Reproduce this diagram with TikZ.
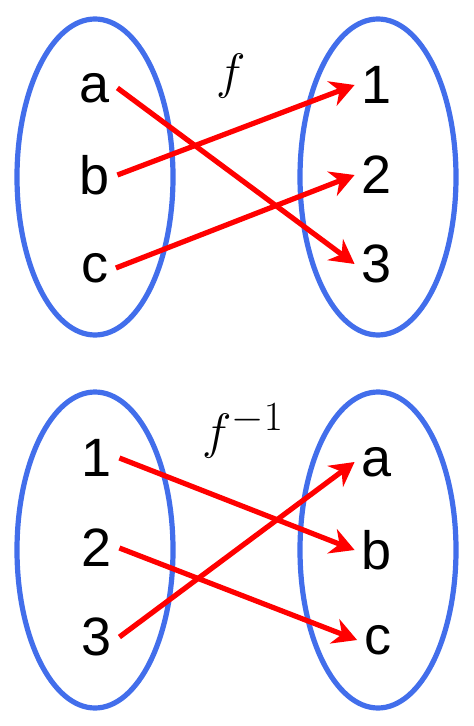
\documentclass[tikz,border=0pt]{standalone}
\usepackage[no-math]{fontspec}
\setmainfont{Liberation Sans}
\usepackage{amsmath}
\usetikzlibrary{arrows.meta,positioning,shapes.geometric}
\definecolor{setblue}{RGB}{66,110,235}
\begin{document}
\begin{tikzpicture}[
  x=0.5pt,y=-0.5pt,
  setbox/.style={draw=setblue,line width=2.6pt,ellipse,minimum width=78pt,minimum height=158pt,inner sep=0pt},
  elem/.style={font=\fontsize{27}{30}\selectfont,inner sep=3.5pt},
  fname/.style={font=\fontsize{30}{34}\selectfont,inner sep=0pt},
  arr/.style={-{Stealth[length=12pt,width=13pt]},line width=2.6pt,red}
]
\useasboundingbox (0,0) rectangle (474,726);
% f : {a,b,c} -> {1,2,3}
\node[setbox] (domA) at (95,177) {};
\node[setbox] (codA) at (378,177) {};
\node[elem] (a1) at (95,88)  {a};
\node[elem] (b1) at (95,175) {b};
\node[elem] (c1) at (95,268) {c};
\node[elem] (n1) at (377,85)  {1};
\node[elem] (n2) at (377,175) {2};
\node[elem] (n3) at (377,264) {3};
\node[fname] (f) at (231,76) {$f$};
\draw[arr] (a1.east) -- (n3.west);
\draw[arr] (b1.east) -- (n1.west);
\draw[arr] (c1.east) -- (n2.west);
% f^{-1} : {1,2,3} -> {a,b,c}
\node[setbox] (domB) at (95,550) {};
\node[setbox] (codB) at (378,550) {};
\node[elem] (m1) at (97,458) {1};
\node[elem] (m2) at (97,548) {2};
\node[elem] (m3) at (97,637) {3};
\node[elem] (a2) at (377,462) {a};
\node[elem] (b2) at (377,550) {b};
\node[elem] (c2) at (378,640) {c};
\node[fname] (finv) at (243,431) {$f^{-1}$};
\draw[arr] (m1.east) -- (b2.west);
\draw[arr] (m2.east) -- (c2.west);
\draw[arr] (m3.east) -- (a2.west);
\end{tikzpicture}
\end{document}
